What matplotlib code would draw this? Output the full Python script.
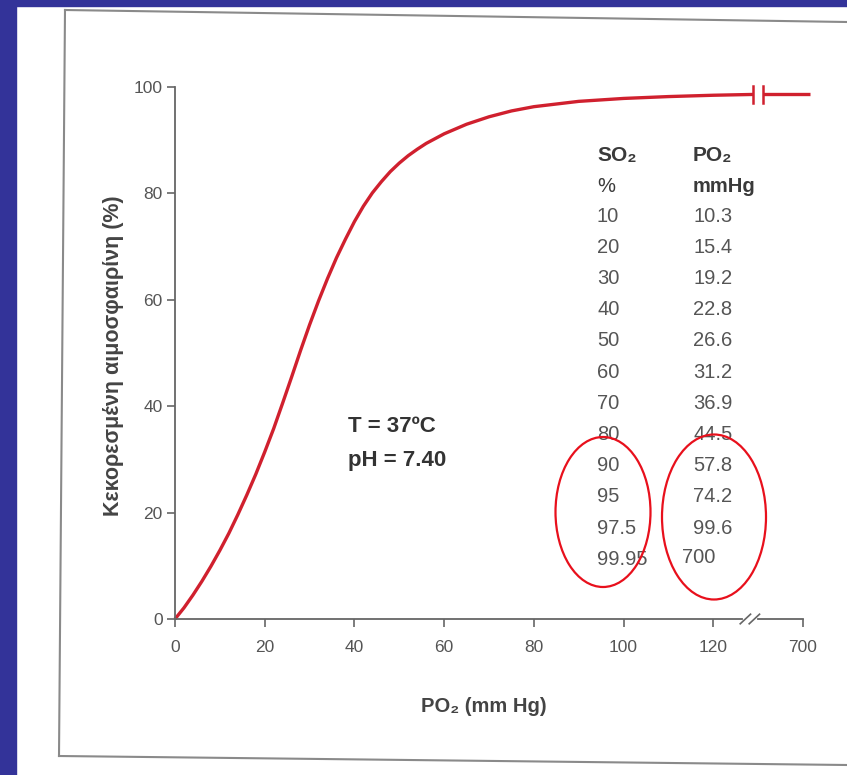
import matplotlib
matplotlib.use('Agg')
import matplotlib.pyplot as plt
from matplotlib.patches import Ellipse, Rectangle
from matplotlib.lines import Line2D

plt.rcParams['font.family'] = ['Liberation Sans', 'DejaVu Sans']

# curve (PO2 mmHg, saturation %)
po2 = [0, 2, 4, 6, 8, 10, 12, 14, 16, 18, 20, 22, 24, 26, 28, 30, 32, 34, 36, 38,
       40, 42, 44, 46, 48, 50, 52, 54, 56, 58, 60, 65, 70, 75, 80, 90, 100, 110,
       120, 128.9]
sat = [0, 2.1, 4.5, 7.1, 9.9, 12.9, 16.1, 19.6, 23.3, 27.2, 31.4, 35.8, 40.6,
       45.5, 50.5, 55.3, 59.8, 64.0, 67.9, 71.4, 74.7, 77.6, 80.1, 82.2, 84.1,
       85.7, 87.1, 88.3, 89.4, 90.3, 91.2, 93.0, 94.4, 95.5, 96.3, 97.3, 97.85,
       98.2, 98.45, 98.6]
# short piece after the break (drawn at the "700" end of the axis)
tail_x = [131, 141.6]
tail_y = [98.6, 98.6]

xticks = [0, 20, 40, 60, 80, 100, 120, 140]
xtick_labels = ['0', '20', '40', '60', '80', '100', '120', '700']
yticks = [0, 20, 40, 60, 80, 100]

# table beside the curve
so2_col = ['10', '20', '30', '40', '50', '60', '70', '80', '90', '95', '97.5', '99.95']
po2_col = ['10.3', '15.4', '19.2', '22.8', '26.6', '31.2', '36.9', '44.5', '57.8',
           '74.2', '99.6', '700']

W, H = 847, 775
fig = plt.figure(figsize=(W / 100, H / 100), dpi=100)
fig.patch.set_facecolor('white')


def fx(px):
    return px / W


def fy(py):
    return 1 - py / H


# blue slide border
fig.patches.append(Rectangle((0, 0), fx(16), 1, transform=fig.transFigure,
                             color='#333399', zorder=0))
fig.patches.append(Rectangle((0, fy(6)), 1, 6 / H, transform=fig.transFigure,
                             color='#333399', zorder=0))

# grey page frame (slightly skewed scan)
for (x0, y0), (x1, y1) in [((65, 10), (847, 22)), ((65, 10), (59, 756)),
                           ((59, 756), (847, 765))]:
    fig.lines.append(Line2D([fx(x0), fx(x1)], [fy(y0), fy(y1)],
                            transform=fig.transFigure, color='#8a8a8a', lw=1.5))

ax = fig.add_axes([fx(175), fy(619), (145 * 4.486) / W, 532 / H])
ax.set_xlim(0, 145)
ax.set_ylim(0, 100)
ax.patch.set_alpha(0)

red = '#d0202e'
ax.plot(po2, sat, color=red, lw=2.4, clip_on=False, solid_capstyle='butt')
ax.plot(tail_x, tail_y, color=red, lw=2.4, clip_on=False, solid_capstyle='butt')
for bx in [128.9, 131]:
    ax.plot([bx, bx], [97.0, 100.2], color=red, lw=1.8, clip_on=False)

for s in ['top', 'right']:
    ax.spines[s].set_visible(False)
axc = '#666666'
ax.spines['left'].set_color(axc)
ax.spines['bottom'].set_color(axc)
ax.spines['left'].set_linewidth(1.3)
ax.spines['bottom'].set_linewidth(1.3)
ax.spines['left'].set_bounds(0, 100)
ax.spines['bottom'].set_bounds(0, 126.5)
ax.plot([130, 140], [0, 0], color=axc, lw=1.3, clip_on=False)
for sx in [126, 128]:
    ax.plot([sx, sx + 2.3], [-0.9, 0.9], color=axc, lw=1.2, clip_on=False)

ax.set_xticks(xticks)
ax.set_xticklabels(xtick_labels)
ax.set_yticks(yticks)
ax.tick_params(direction='out', length=6, width=1.2, color=axc,
               labelsize=12.5, labelcolor='#555555')
ax.tick_params(axis='x', pad=9)
ax.tick_params(axis='y', pad=3)

ax.text(38.5, 36.1, 'T = 37ºC', fontsize=16, fontweight='bold', color='#333333',
        va='center')
ax.text(38.5, 29.7, 'pH = 7.40', fontsize=16, fontweight='bold', color='#333333',
        va='center')

fig.text(fx(113), fy(356), 'Κεκορεσμένη αιμοσφαιρίνη (%)', rotation=90,
         ha='center', va='center', fontsize=15.5, fontweight='bold', color='#444444')
fig.text(fx(484), fy(706), 'PO₂ (mm Hg)', ha='center', va='center',
         fontsize=14.5, fontweight='bold', color='#444444')

# table
tc = '#555555'
hc = '#3a3a3a'
fig.text(fx(597), fy(156), 'SO₂', fontsize=15, fontweight='bold', color=hc, va='center')
fig.text(fx(597), fy(186), '%', fontsize=14.5, color=hc, va='center')
fig.text(fx(693), fy(156), 'PO₂', fontsize=15, fontweight='bold', color=hc, va='center')
fig.text(fx(693), fy(186), 'mmHg', fontsize=14.5, fontweight='bold', color=hc, va='center')
for i, (a, b) in enumerate(zip(so2_col, po2_col)):
    y = 216 + i * 31.2
    fig.text(fx(597), fy(y), a, fontsize=14.5, color=tc, va='center')
    bx = 682 if b == '700' else 693
    fig.text(fx(bx), fy(y - 2 if b == '700' else y), b, fontsize=14.5, color=tc, va='center')

# red highlight ellipses
for cx, cy, w, h in [(603, 512, 95, 150), (714, 517, 104, 165)]:
    fig.patches.append(Ellipse((fx(cx), fy(cy)), w / W, h / H, transform=fig.transFigure,
                               fill=False, edgecolor='#e8101c', lw=1.6, zorder=5))

fig.savefig('out.png', dpi=100)
